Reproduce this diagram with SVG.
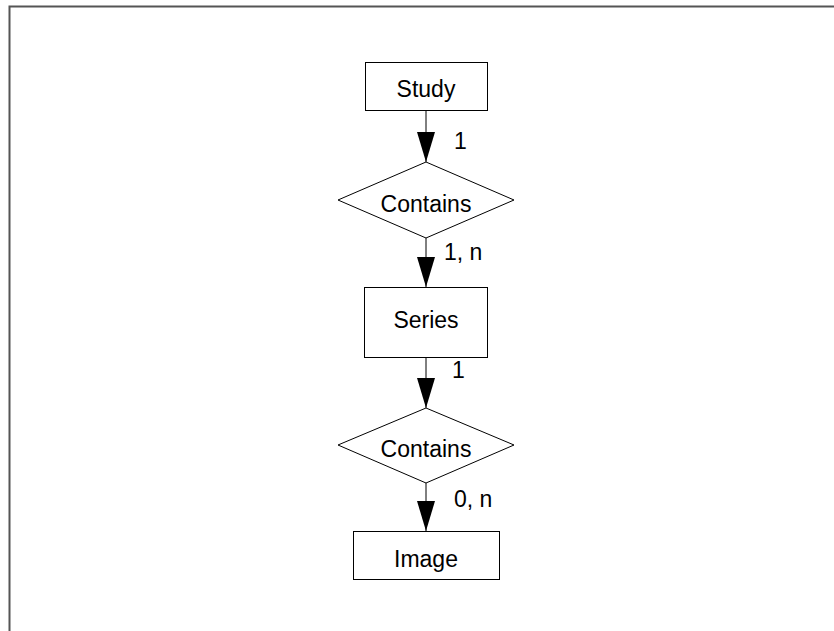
<svg xmlns="http://www.w3.org/2000/svg" width="834" height="631" viewBox="0 0 834 631">
<style>
.box{fill:#fff;stroke:#000;stroke-width:1}
.t{font-family:"Liberation Sans",Arial,sans-serif;font-size:23px;fill:#000}
.c{text-anchor:middle}
.ln{stroke:#000;stroke-width:1;fill:none}
</style>
<defs>
<marker id="ah" markerUnits="userSpaceOnUse" markerWidth="30" markerHeight="18" refX="30" refY="9" orient="auto" viewBox="0 0 30 18">
<path d="M0,0 L30,9 L0,18 Z" fill="#000"/>
</marker>
</defs>
<rect width="834" height="631" fill="#fff"/>
<path d="M9.5,631 V6.5 H834" fill="none" stroke="#555" stroke-width="2"/>
<g id="connectors">
<line class="ln" x1="426" y1="111" x2="426" y2="162" marker-end="url(#ah)"/>
<line class="ln" x1="426" y1="238" x2="426" y2="287" marker-end="url(#ah)"/>
<line class="ln" x1="426" y1="357" x2="426" y2="408" marker-end="url(#ah)"/>
<line class="ln" x1="426" y1="483" x2="426" y2="531" marker-end="url(#ah)"/>
<text class="t" x="454" y="149">1</text>
<text class="t" x="444" y="260">1, n</text>
<text class="t" x="452" y="378">1</text>
<text class="t" x="454" y="507">0, n</text>
</g>
<g id="study">
<rect class="box" x="365.5" y="62.5" width="122" height="48"/>
<text class="t c" x="426" y="97">Study</text>
</g>
<g id="contains1">
<polygon class="box" points="426,162 514,200 426,238 338,200"/>
<text class="t c" x="426" y="212">Contains</text>
</g>
<g id="series">
<rect class="box" x="364.5" y="287.5" width="123" height="70"/>
<text class="t c" x="426" y="328">Series</text>
</g>
<g id="contains2">
<polygon class="box" points="426,408 514,445 426,483 338,445"/>
<text class="t c" x="426" y="457">Contains</text>
</g>
<g id="image">
<rect class="box" x="353.5" y="531.5" width="146" height="48"/>
<text class="t c" x="426" y="567">Image</text>
</g>
</svg>
